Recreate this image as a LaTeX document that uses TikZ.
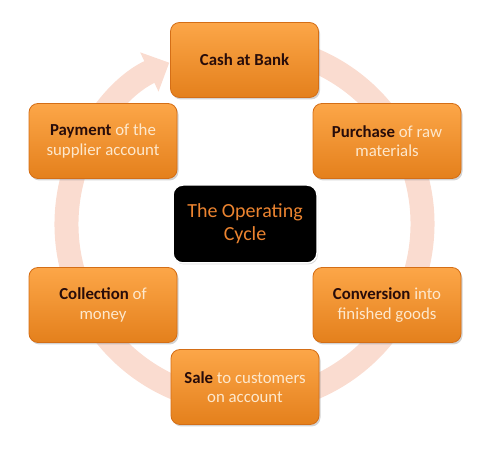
\documentclass[tikz,border=0pt]{standalone}
\usepackage{fontspec}
\setmainfont{Carlito}
\usetikzlibrary{arrows.meta,shadows}

\definecolor{boxtop}{RGB}{252,166,72}
\definecolor{boxbot}{RGB}{228,128,28}
\definecolor{boxline}{RGB}{212,110,22}
\definecolor{ringpink}{RGB}{250,220,208}
\definecolor{cream}{RGB}{253,232,205}
\definecolor{keyword}{RGB}{40,12,10}
\definecolor{titleorange}{RGB}{236,132,48}

\tikzset{
    stage/.style={rectangle,rounded corners=9pt,minimum width=148pt,minimum height=75pt,
        top color=boxtop,bottom color=boxbot,draw=boxline,line width=0.8pt,
        drop shadow={shadow xshift=1.5pt,shadow yshift=-2pt,opacity=0.35},
        align=center,text=cream,font=\fontsize{16.8}{19.5}\selectfont},
    hub/.style={rectangle,rounded corners=10pt,minimum width=144pt,minimum height=78pt,
        fill=black,draw=white,line width=1.5pt,
        drop shadow={shadow xshift=1pt,shadow yshift=-1.5pt,opacity=0.3},
        align=center,text=titleorange,font=\fontsize{20}{23}\selectfont}
}
\newcommand{\kw}[1]{\textcolor{keyword}{\textbf{#1}}}

\begin{document}
\begin{tikzpicture}[x=1pt,y=1pt]
    \useasboundingbox (0,0) rectangle (488,450);

    % ring with arrow
    \coordinate (c) at (244.5,226);
    \draw [ringpink,line width=24pt,-{Triangle[width=42pt,length=22pt]}]
        ([shift={(80:178)}]c) arc [start angle=80,end angle=-245,radius=178];

    \node(1) at (244.5,390) [stage] {\kw{Cash at Bank}};
    \node(2) at (387,309) [stage] {\kw{Purchase} of raw\\materials};
    \node(3) at (387,145) [stage] {\kw{Conversion} into\\finished goods};
    \node(4) at (245,63) [stage] {\kw{Sale} to customers\\on account};
    \node(5) at (103,145) [stage] {\kw{Collection} of\\money};
    \node(6) at (103,309) [stage] {\kw{Payment} of the\\supplier account};

    \node(7) at (245,226) [hub] {The Operating\\Cycle};
\end{tikzpicture}
\end{document}
